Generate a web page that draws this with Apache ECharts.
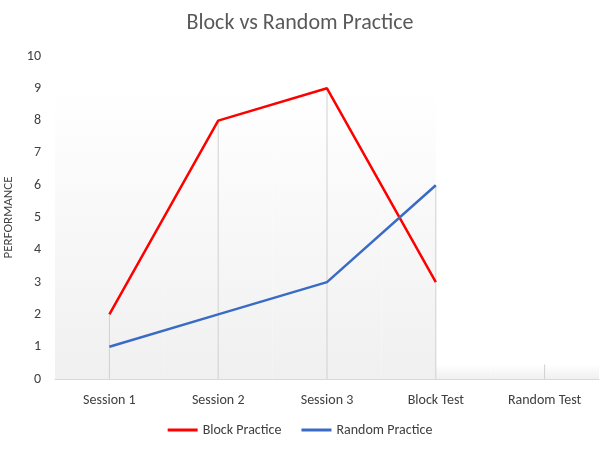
<!DOCTYPE html>
<html>
<head>
<meta charset="utf-8">
<script src="https://cdn.jsdelivr.net/npm/echarts@6/dist/echarts.min.js"></script>
<style>html,body{margin:0;padding:0;background:#fff}#chart{width:600px;height:450px}</style>
</head>
<body>
<div id="chart"></div>
<script>
var categories = ['Session 1', 'Session 2', 'Session 3', 'Block Test', 'Random Test'];
var blockPractice = [2, 8, 9, 3, null];
var randomPractice = [1, 2, 3, 6, null];
// stepped backdrop: [category index, height, left part of band, right part of band]
var backdrop = [[0, 9, 0, 1], [1, 9, 0, 1], [2, 9, 0, 1], [3, 9, 0, 0.5], [3, 0.45, 0.5, 1], [4, 0.45, 0, 1]];
var dropTops = [2, 8, 9, 6, 0.45];

var chart = echarts.init(document.getElementById('chart'));
var font = 'Carlito, "Open Sans", "Liberation Sans", sans-serif';

chart.setOption({
    animation: false,
    textStyle: {fontFamily: font},
    title: {
        text: 'Block vs Random Practice',
        left: 'center',
        top: 7,
        textStyle: {color: '#595959', fontSize: 22, fontWeight: 'normal', fontFamily: font}
    },
    legend: {
        bottom: 8,
        itemWidth: 30,
        itemGap: 20,
        icon: 'rect',
        itemHeight: 3,
        textStyle: {color: '#404040', fontSize: 14},
        data: ['Block Practice', 'Random Practice']
    },
    grid: {left: 55, right: 1, top: 56, bottom: 71, containLabel: false, outerBoundsMode: 'none'},
    xAxis: {
        type: 'category',
        data: categories,
        axisTick: {show: false},
        axisLine: {lineStyle: {color: '#d9d9d9'}},
        axisLabel: {color: '#404040', fontSize: 14, margin: 14}
    },
    yAxis: {
        type: 'value',
        min: 0, max: 10, interval: 1,
        name: 'PERFORMANCE',
        nameLocation: 'middle',
        nameGap: 40,
        nameTextStyle: {color: '#404040', fontSize: 13},
        splitLine: {show: false},
        axisLabel: {color: '#404040', fontSize: 14, margin: 14}
    },
    series: [
        {
            type: 'custom',
            silent: true,
            z: 0,
            data: backdrop,
            renderItem: function(params, api) {
                var c = api.coord([api.value(0), api.value(1)]);
                var base = api.coord([api.value(0), 0]);
                var w = api.size([1, 0])[0];
                var x0 = c[0] - w / 2 + w * api.value(2);
                var x1 = c[0] - w / 2 + w * api.value(3);
                return {
                    type: 'rect',
                    shape: {x: x0, y: c[1], width: x1 - x0, height: base[1] - c[1]},
                    style: {fill: new echarts.graphic.LinearGradient(0, 0, 0, 1, [
                        {offset: 0, color: '#ffffff'}, {offset: 1, color: '#f0f0f0'}])}
                };
            }
        },
        {
            type: 'custom',
            silent: true,
            z: 1,
            data: dropTops.map(function(v, i) { return [i, v]; }),
            renderItem: function(params, api) {
                var t = api.coord([api.value(0), api.value(1)]);
                var b = api.coord([api.value(0), 0]);
                return {
                    type: 'line',
                    shape: {x1: t[0], y1: t[1], x2: b[0], y2: b[1]},
                    style: {stroke: '#d0d0d0', lineWidth: 1}
                };
            }
        },
        {
            name: 'Block Practice',
            type: 'line',
            data: blockPractice,
            z: 3,
            symbol: 'none',
            itemStyle: {color: '#ff0000'},
            lineStyle: {color: '#ff0000', width: 2.5}
        },
        {
            name: 'Random Practice',
            type: 'line',
            data: randomPractice,
            z: 3,
            symbol: 'none',
            itemStyle: {color: '#3a6bc4'},
            lineStyle: {color: '#3a6bc4', width: 2.5}
        }
    ]
});
</script>
</body>
</html>
